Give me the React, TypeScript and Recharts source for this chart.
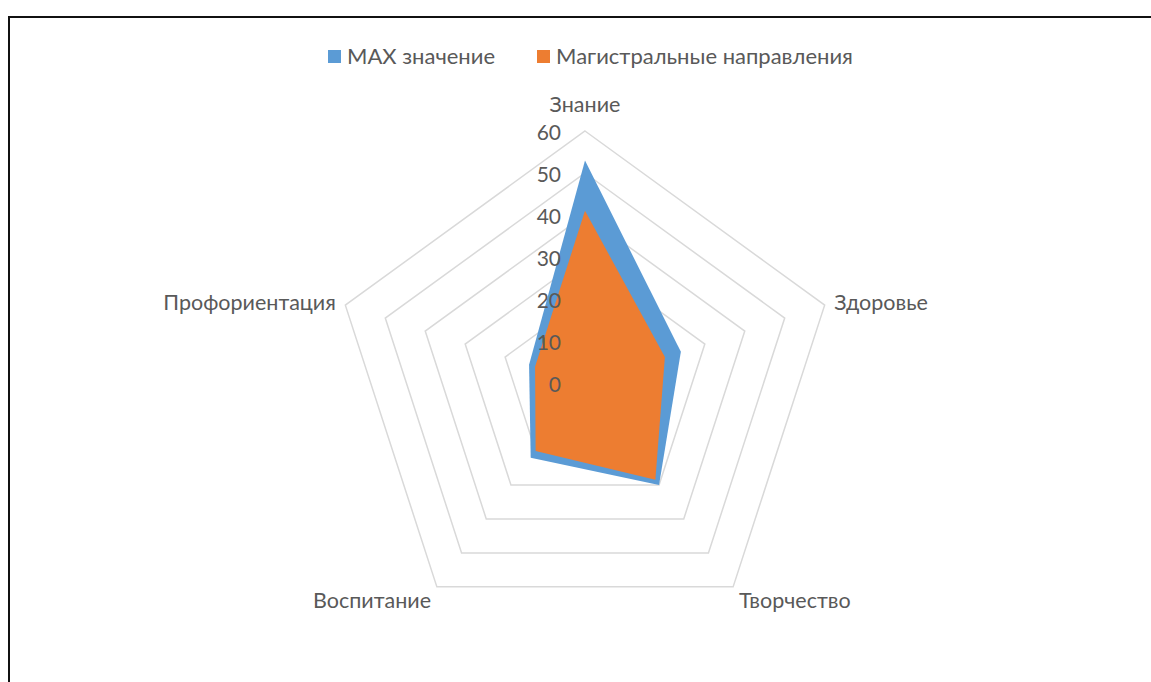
import React from "react";
import { RadarChart, Radar, PolarGrid, PolarAngleAxis, PolarRadiusAxis, Legend } from "recharts";

const categories = ["Знание", "Здоровье", "Творчество", "Воспитание", "Профориентация"];
const maxValues = [53, 24, 30, 22, 14];
const mainValues = [41, 20, 28.5, 20, 12.5];
const radiusTicks = [0, 10, 20, 30, 40, 50, 60];
const seriesNames = ["MAX значение", "Магистральные направления"];
const seriesColors = ["#5B9BD5", "#ED7D31"];

const data = categories.map((c, i) => ({ name: c, max: maxValues[i], main: mainValues[i] }));

const W = 1151;
const H = 682;
const CX = 585;
const CY = 383;
const R = 252;
const FONT = "Lato, 'Noto Sans', sans-serif";
const TEXT = "#595959";

const AngleTick = (props: any) => {
  const { payload } = props;
  const ang = (payload.coordinate * Math.PI) / 180;
  const cos = Math.cos(ang);
  const sin = Math.sin(ang);
  const r = R + 10;
  let x = CX + r * cos;
  let y = CY - r * sin;
  let anchor: "start" | "middle" | "end" = "middle";
  if (Math.abs(cos) < 0.1) {
    y -= 17;
  } else {
    anchor = cos > 0 ? "start" : "end";
  }
  if (sin < -0.5) y += 5;
  return (
    <text x={x} y={y} textAnchor={anchor} dominantBaseline="central" fill={TEXT} fontSize={21.5} fontFamily={FONT}>
      {payload.value}
    </text>
  );
};

const RadiusTick = (props: any) => {
  const { x, y, payload } = props;
  return (
    <text x={x - 24} y={y} textAnchor="end" dominantBaseline="central" fill={TEXT} fontSize={21} fontFamily={FONT}>
      {payload.value}
    </text>
  );
};

const LegendContent = () => (
  <div style={{ display: "flex", alignItems: "center", paddingLeft: 328, fontFamily: FONT, fontSize: 22, color: TEXT }}>
    {seriesNames.map((n, i) => (
      <div key={n} style={{ display: "flex", alignItems: "center", marginRight: 42 }}>
        <div style={{ width: 13, height: 13, background: seriesColors[i], marginRight: 6 }} />
        <span style={{ lineHeight: "24px" }}>{n}</span>
      </div>
    ))}
  </div>
);

export default function App() {
  return (
    <div style={{ position: "absolute", left: 0, top: 0, width: W, height: H, background: "#fff", overflow: "hidden" }}>
      <div
        style={{
          position: "absolute",
          left: 8,
          top: 16,
          width: W + 20,
          height: H + 20,
          borderTop: "2px solid #111",
          borderLeft: "2px solid #111",
          boxSizing: "border-box",
        }}
      />
      <RadarChart
        width={W}
        height={H}
        data={data}
        cx={CX}
        cy={CY}
        outerRadius={R}
        startAngle={90}
        endAngle={-270}
        style={{ position: "absolute", left: 0, top: 0 }}
      >
        <PolarGrid gridType="polygon" radialLines={false} stroke="#D9D9D9" strokeWidth={1.5} />
        <PolarAngleAxis dataKey="name" tick={<AngleTick />} tickLine={false} axisLine={false} />
        <Radar
          name={seriesNames[0]}
          dataKey="max"
          fill={seriesColors[0]}
          fillOpacity={1}
          stroke="none"
          isAnimationActive={false}
        />
        <Radar
          name={seriesNames[1]}
          dataKey="main"
          fill={seriesColors[1]}
          fillOpacity={1}
          stroke="none"
          isAnimationActive={false}
        />
        <PolarRadiusAxis
          angle={90}
          domain={[0, 60]}
          ticks={radiusTicks as any}
          tickCount={7}
          axisLine={false}
          tickLine={false}
          tick={<RadiusTick />}
        />
        <Legend verticalAlign="top" wrapperStyle={{ top: 44, left: 0, width: W }} content={<LegendContent />} />
      </RadarChart>
    </div>
  );
}
